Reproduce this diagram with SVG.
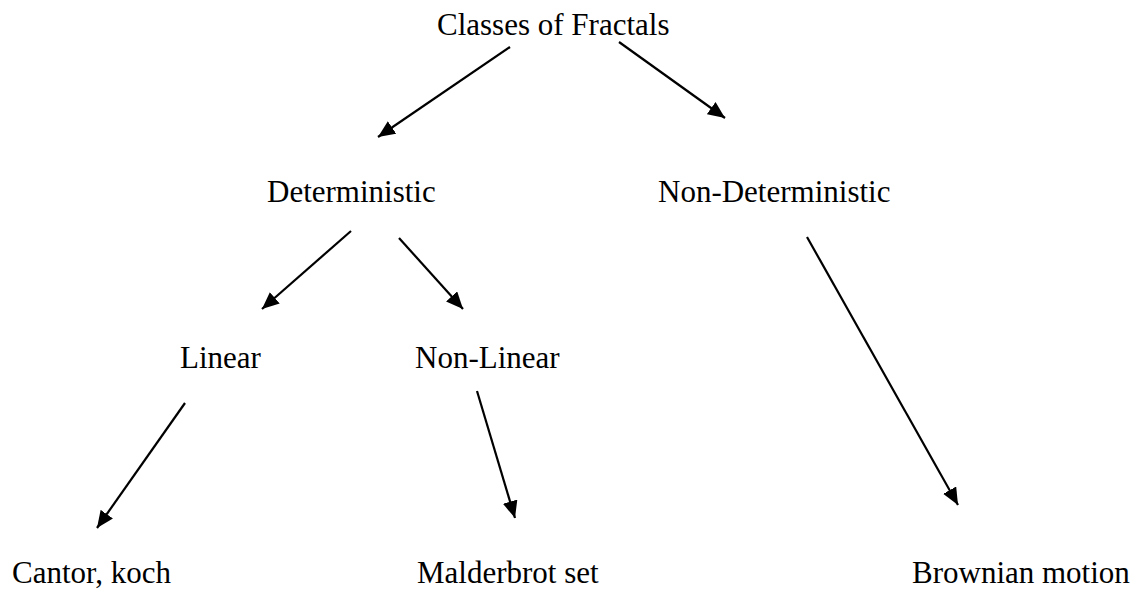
<svg xmlns="http://www.w3.org/2000/svg" width="1134" height="592" viewBox="0 0 1134 592">
<style>
.t{font-family:"Liberation Serif","Times New Roman",serif;font-size:31px;fill:#000}
.c{stroke:#000;stroke-width:2.2;fill:none;marker-end:url(#ah)}
</style>
<defs>
<marker id="ah" markerUnits="userSpaceOnUse" markerWidth="18" markerHeight="16" refX="17" refY="7.5" orient="auto">
<path d="M0,0 L17,7.5 L0,15 z" fill="#000"/>
</marker>
</defs>
<rect width="1134" height="592" fill="#fff"/>
<g id="connectors">
<line class="c" x1="510" y1="47" x2="378" y2="137"/>
<line class="c" x1="619" y1="42" x2="725" y2="118"/>
<line class="c" x1="351" y1="231" x2="262" y2="309"/>
<line class="c" x1="399" y1="238" x2="463" y2="309"/>
<line class="c" x1="807" y1="237" x2="958" y2="505"/>
<line class="c" x1="185" y1="403" x2="97" y2="528"/>
<line class="c" x1="477" y1="391" x2="515" y2="518"/>
</g>
<g id="classes"><text class="t" x="437" y="35">Classes of Fractals</text></g>
<g id="deterministic"><text class="t" x="267" y="202">Deterministic</text></g>
<g id="nondeterministic"><text class="t" x="658" y="202">Non-Deterministic</text></g>
<g id="linear"><text class="t" x="180" y="368">Linear</text></g>
<g id="nonlinear"><text class="t" x="415" y="368">Non-Linear</text></g>
<g id="cantor"><text class="t" x="12" y="583">Cantor, koch</text></g>
<g id="malderbrot"><text class="t" x="417" y="583">Malderbrot set</text></g>
<g id="brownian"><text class="t" x="912" y="583">Brownian motion</text></g>
</svg>
